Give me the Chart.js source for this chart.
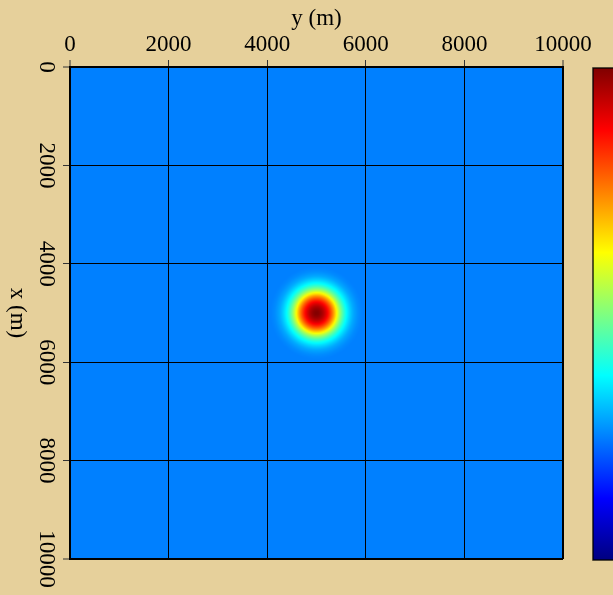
<!DOCTYPE html>
<html>
<head>
<meta charset="utf-8">
<script src="https://cdn.jsdelivr.net/npm/chart.js@4.4.1/dist/chart.umd.min.js"></script>
<style>
  html, body { margin: 0; padding: 0; background: #e6d09b; }
  #wrap { width: 613px; height: 595px; }
</style>
</head>
<body>
<div id="wrap"><canvas id="c" width="613" height="595"></canvas></div>
<script>
// Model extent (metres) and axis tick labels
const extentY = [0, 10000];           // horizontal axis, "y (m)"
const extentX = [0, 10000];           // vertical axis, "x (m)"
const yTicks = [0, 2000, 4000, 6000, 8000, 10000];
const xTicks = [0, 2000, 4000, 6000, 8000, 10000];

// Gaussian anomaly: centre position and its radial profile (normalised 0..1 colour value)
const anomalyCentre = { y: 5000, x: 5000 };
const profileRadius = [0, 50, 100, 150, 200, 250, 300, 350, 400, 450, 500, 550, 600, 650, 700, 750, 800, 850, 900, 950];
const profileValue  = [1.00, 0.99, 0.97, 0.94, 0.90, 0.85, 0.79, 0.72, 0.64, 0.56, 0.49, 0.43, 0.38, 0.345, 0.315, 0.29, 0.275, 0.262, 0.255, 0.25];
const backgroundValue = 0.25;

// Jet colormap control points
const jetPos = [0, 0.125, 0.375, 0.625, 0.875, 1];
const jetRGB = [[0, 0, 128], [0, 0, 255], [0, 255, 255], [255, 255, 0], [255, 0, 0], [128, 0, 0]];

function jet(v) {
  v = Math.max(0, Math.min(1, v));
  for (let i = 1; i < jetPos.length; i++) {
    if (v <= jetPos[i]) {
      const t = (v - jetPos[i - 1]) / (jetPos[i] - jetPos[i - 1]);
      const a = jetRGB[i - 1], b = jetRGB[i];
      return [a[0] + (b[0] - a[0]) * t, a[1] + (b[1] - a[1]) * t, a[2] + (b[2] - a[2]) * t];
    }
  }
  return jetRGB[jetRGB.length - 1];
}

function valueAt(r) {
  if (r >= profileRadius[profileRadius.length - 1]) return backgroundValue;
  for (let i = 1; i < profileRadius.length; i++) {
    if (r <= profileRadius[i]) {
      const t = (r - profileRadius[i - 1]) / (profileRadius[i] - profileRadius[i - 1]);
      return profileValue[i - 1] + (profileValue[i] - profileValue[i - 1]) * t;
    }
  }
  return backgroundValue;
}

// Rasterise the field on a regular grid once
const GRID_N = 400;
let fieldImage = null;
function buildField() {
  const off = document.createElement('canvas');
  off.width = GRID_N; off.height = GRID_N;
  const octx = off.getContext('2d');
  const img = octx.createImageData(GRID_N, GRID_N);
  const dy = (extentY[1] - extentY[0]) / GRID_N;
  const dx = (extentX[1] - extentX[0]) / GRID_N;
  for (let row = 0; row < GRID_N; row++) {
    const xm = extentX[0] + (row + 0.5) * dx;
    for (let col = 0; col < GRID_N; col++) {
      const ym = extentY[0] + (col + 0.5) * dy;
      const r = Math.hypot(xm - anomalyCentre.x, ym - anomalyCentre.y);
      const c = jet(valueAt(r));
      const k = (row * GRID_N + col) * 4;
      img.data[k] = c[0]; img.data[k + 1] = c[1]; img.data[k + 2] = c[2]; img.data[k + 3] = 255;
    }
  }
  octx.putImageData(img, 0, 0);
  return off;
}

const fieldPlugin = {
  id: 'field',
  beforeDatasetsDraw(chart) {
    if (!fieldImage) fieldImage = buildField();
    const xs = chart.scales.x, ys = chart.scales.y, ctx = chart.ctx;
    const l = xs.getPixelForValue(extentY[0]), r = xs.getPixelForValue(extentY[1]);
    const t = ys.getPixelForValue(extentX[0]), b = ys.getPixelForValue(extentX[1]);
    ctx.save();
    ctx.imageSmoothingEnabled = true;
    ctx.drawImage(fieldImage, l, t, r - l, b - t);
    ctx.restore();
  }
};

const FONT = { family: "'Liberation Serif', 'Times New Roman', serif", size: 23 };

// Colour bar and the rotated vertical-axis title
const decorPlugin = {
  id: 'decor',
  afterDraw(chart) {
    const ctx = chart.ctx, ys = chart.scales.y, area = chart.chartArea;
    const top = ys.getPixelForValue(extentX[0]) + 1;
    const bot = ys.getPixelForValue(extentX[1]) + 1;
    const x0 = area.right + 30;
    const g = ctx.createLinearGradient(0, bot, 0, top);
    jetPos.forEach((p, i) => g.addColorStop(p, 'rgb(' + jetRGB[i].join(',') + ')'));
    ctx.save();
    ctx.fillStyle = g;
    ctx.fillRect(x0, top, 40, bot - top);
    ctx.strokeStyle = 'rgba(0,0,0,0.85)';
    ctx.lineWidth = 1.5;
    ctx.strokeRect(x0, top, 40, bot - top);

    ctx.fillStyle = '#000';
    ctx.font = FONT.size + 'px ' + FONT.family;
    ctx.textAlign = 'center';
    ctx.textBaseline = 'middle';
    ctx.translate(17, (area.top + area.bottom) / 2);
    ctx.rotate(Math.PI / 2);
    ctx.fillText('x (m)', 0, 0);
    ctx.restore();
  }
};

const edgeWidth = (c, lo, hi) => (c.tick && (c.tick.value === lo || c.tick.value === hi)) ? 2 : 1;
const plainLabel = v => String(v);

new Chart(document.getElementById('c'), {
  type: 'scatter',
  data: { datasets: [{ data: [] }] },
  options: {
    responsive: false,
    animation: false,
    devicePixelRatio: 1,
    layout: { padding: { top: 0, left: 0, right: 50, bottom: 36 } },
    plugins: { legend: { display: false }, tooltip: { enabled: false } },
    scales: {
      x: {
        type: 'linear', position: 'top', min: extentY[0], max: extentY[1],
        afterBuildTicks: s => { s.ticks = yTicks.map(v => ({ value: v })); },
        afterFit: s => { s.height = 67; },
        ticks: { font: FONT, color: '#000', padding: 1, autoSkip: false, maxRotation: 0, callback: plainLabel },
        grid: { z: 1, color: '#000', lineWidth: c => edgeWidth(c, extentY[0], extentY[1]), tickLength: 7, tickColor: '#333', tickWidth: 1 },
        border: { z: 1, color: '#000', width: 2 },
        title: { display: true, text: 'y (m)', font: FONT, color: '#000', padding: { top: 5, bottom: 0 } }
      },
      y: {
        type: 'linear', position: 'left', reverse: true, min: extentX[0], max: extentX[1],
        afterBuildTicks: s => { s.ticks = xTicks.map(v => ({ value: v })); },
        afterFit: s => { s.width = 70; },
        ticks: { font: FONT, color: '#000', padding: -12, autoSkip: false, minRotation: -90, maxRotation: -90, crossAlign: 'center', callback: plainLabel },
        grid: { z: 1, color: '#000', lineWidth: c => edgeWidth(c, extentX[0], extentX[1]), tickLength: 7, tickColor: '#333', tickWidth: 1 },
        border: { z: 1, color: '#000', width: 2 }
      }
    }
  },
  plugins: [fieldPlugin, decorPlugin]
});
</script>
</body>
</html>
